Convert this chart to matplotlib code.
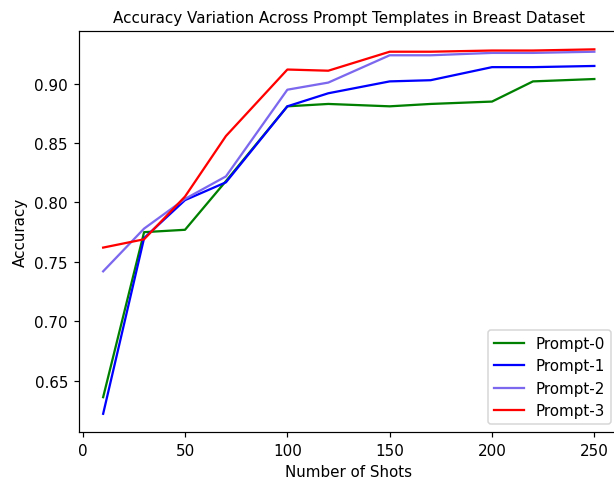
import matplotlib
matplotlib.use("Agg")
import matplotlib.pyplot as plt

shots = [10, 30, 50, 70, 100, 120, 150, 170, 200, 220, 250]

prompt0 = [0.636, 0.775, 0.777, 0.818, 0.881, 0.883, 0.881, 0.883, 0.885, 0.902, 0.904]
prompt1 = [0.622, 0.770, 0.802, 0.817, 0.881, 0.892, 0.902, 0.903, 0.914, 0.914, 0.915]
prompt2 = [0.742, 0.778, 0.803, 0.822, 0.895, 0.901, 0.924, 0.924, 0.926, 0.926, 0.927]
prompt3 = [0.762, 0.769, 0.805, 0.856, 0.912, 0.911, 0.927, 0.927, 0.928, 0.928, 0.929]

labels = ["Prompt-0", "Prompt-1", "Prompt-2", "Prompt-3"]
colors = ["green", "blue", "mediumslateblue", "red"]

# reference looks rendered a bit bigger than 100 dpi, so scale everything up
dpi = 108.5
fig = plt.figure(figsize=(614 / dpi, 483 / dpi), dpi=dpi)
ax = fig.add_axes([0.128, 0.1035, 0.880, 0.830])

for ys, lab, c in zip([prompt0, prompt1, prompt2, prompt3], labels, colors):
    ax.plot(shots, ys, color=c, label=lab)

ax.set_title("Accuracy Variation Across Prompt Templates in Breast Dataset", fontsize=10)
ax.set_xlabel("Number of Shots")
ax.set_ylabel("Accuracy")
ax.legend(loc="lower right")

fig.savefig("out.png", dpi=dpi)
